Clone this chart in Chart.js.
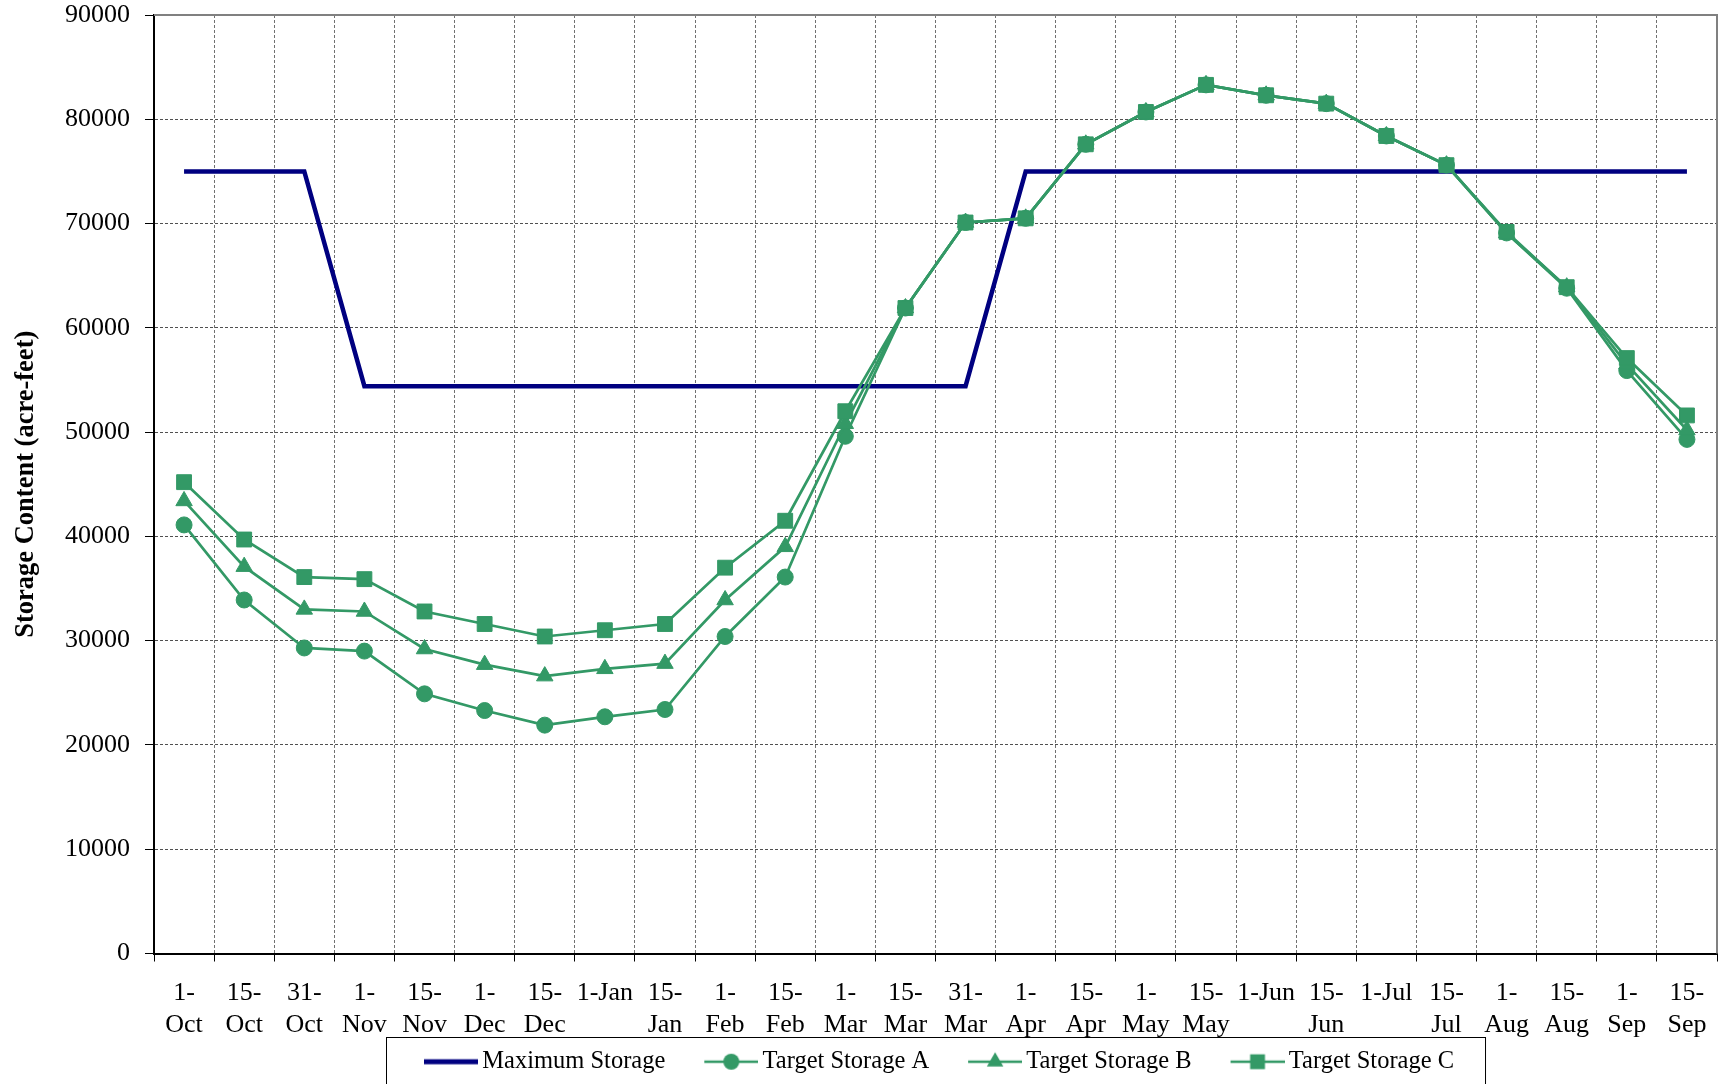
<!DOCTYPE html>
<html>
<head>
<meta charset="utf-8">
<script src="https://cdn.jsdelivr.net/npm/chart.js@4.4.0/dist/chart.umd.min.js"></script>
<style>
  html, body { margin: 0; padding: 0; background: #fff; }
  #wrap { width: 1729px; height: 1084px; }
</style>
</head>
<body>
<div id="wrap"><canvas id="storageChart" width="1729" height="1084"></canvas></div>
<script>
'use strict';

// x categories, split on two lines the way the sheet wraps them
const tickLabels = [
    ['1-', 'Oct'], ['15-', 'Oct'], ['31-', 'Oct'], ['1-', 'Nov'], ['15-', 'Nov'],
    ['1-', 'Dec'], ['15-', 'Dec'], ['1-Jan'], ['15-', 'Jan'], ['1-', 'Feb'],
    ['15-', 'Feb'], ['1-', 'Mar'], ['15-', 'Mar'], ['31-', 'Mar'], ['1-', 'Apr'],
    ['15-', 'Apr'], ['1-', 'May'], ['15-', 'May'], ['1-Jun'], ['15-', 'Jun'],
    ['1-Jul'], ['15-', 'Jul'], ['1-', 'Aug'], ['15-', 'Aug'], ['1-', 'Sep'], ['15-', 'Sep']
];

const maxStorage = [
    75000, 75000, 75000, 54400, 54400, 54400, 54400, 54400, 54400, 54400,
    54400, 54400, 54400, 54400, 75000, 75000, 75000, 75000, 75000, 75000,
    75000, 75000, 75000, 75000, 75000, 75000
];

const targetA = [
    41100, 33900, 29300, 29000, 24900, 23300, 21900, 22700, 23400, 30400,
    36100, 49600, 61900, 70100, 70500, 77600, 80700, 83300, 82300, 81500,
    78400, 75600, 69100, 63800, 55900, 49300
];

const targetB = [
    43400, 37100, 33000, 32800, 29200, 27700, 26600, 27300, 27800, 33900,
    39000, 50800, 61900, 70100, 70500, 77600, 80700, 83300, 82300, 81500,
    78400, 75600, 69100, 63900, 56500, 50200
];

const targetC = [
    45200, 39700, 36100, 35900, 32800, 31600, 30400, 31000, 31600, 37000,
    41500, 52000, 61900, 70100, 70500, 77600, 80700, 83300, 82300, 81500,
    78400, 75600, 69200, 63900, 57100, 51600
];

const seriesNames = ['Maximum Storage', 'Target Storage A', 'Target Storage B', 'Target Storage C'];

const NAVY = '#000080';
const GREEN = '#339966';
const FONT = 'Liberation Serif, "Times New Roman", serif';

// legend swatch: line with the marker in the middle, like the spreadsheet legend
const ICON_W = 91;
function legendIcon(color, width, style, radius) {
    const c = document.createElement('canvas');
    c.width = ICON_W;
    c.height = 26;
    const g = c.getContext('2d');
    const y = 13, x0 = ICON_W - 54, cx = ICON_W - 27;
    g.strokeStyle = color;
    g.fillStyle = color;
    g.lineWidth = width;
    g.beginPath();
    g.moveTo(x0, y);
    g.lineTo(ICON_W, y);
    g.stroke();
    g.beginPath();
    if (style === 'circle') {
        g.arc(cx, y, radius, 0, Math.PI * 2);
    } else if (style === 'triangle') {
        for (let k = 0; k < 3; k++) {
            const a = k * 2 * Math.PI / 3;
            const px = cx + Math.sin(a) * radius, py = y - Math.cos(a) * radius;
            if (k === 0) g.moveTo(px, py); else g.lineTo(px, py);
        }
        g.closePath();
    } else if (style === 'rect') {
        const s = radius * Math.SQRT1_2;
        g.rect(cx - s, y - s, 2 * s, 2 * s);
    }
    if (style) g.fill();
    return c;
}

const icons = [
    legendIcon(NAVY, 5, null, 0),
    legendIcon(GREEN, 2.5, 'circle', 8),
    legendIcon(GREEN, 2.5, 'triangle', 9.5),
    legendIcon(GREEN, 2.5, 'rect', 10.5)
];

// keep the legend roughly centred under the plot area, and draw its frame
const legendFrame = {
    id: 'legendFrame',
    afterUpdate(chart) {
        const lg = chart.legend;
        const area = chart.chartArea;
        const dx = (area.left + area.right) / 2 - (lg.left + lg.right) / 2 - 11;
        lg.left += dx;
        lg.right += dx;
    },
    afterDraw(chart) {
        const lg = chart.legend;
        const pad = lg.options.labels.padding;
        const start = (lg.left + pad + lg.right - lg.lineWidths[0]) / 2;
        const end = start + lg.lineWidths[0] - pad;
        const boxW = lg.options.labels.pointStyleWidth;
        const left = start + boxW - 46 - 38;
        const right = end + 31;
        const ctx = chart.ctx;
        ctx.save();
        ctx.strokeStyle = '#000';
        ctx.lineWidth = 1;
        ctx.strokeRect(Math.round(left) + 0.5, Math.round(lg.top - 3) + 0.5, right - left, 80);
        ctx.restore();
    }
};

// grey frame on top and right of the plot area
const plotFrame = {
    id: 'plotFrame',
    beforeDatasetsDraw(chart) {
        const {ctx, chartArea: a} = chart;
        ctx.save();
        ctx.strokeStyle = '#808080';
        ctx.lineWidth = 2;
        ctx.beginPath();
        ctx.moveTo(a.left, a.top);
        ctx.lineTo(a.right, a.top);
        ctx.lineTo(a.right, a.bottom);
        ctx.stroke();
        ctx.restore();
    }
};

Chart.defaults.color = '#000';
Chart.defaults.font.family = FONT;

const ctx = document.getElementById('storageChart').getContext('2d');
const chart = new Chart(ctx, {
    type: 'line',
    data: {
        labels: tickLabels,
        datasets: [{
            label: seriesNames[0],
            data: maxStorage,
            borderColor: NAVY,
            borderWidth: 4.5,
            pointRadius: 0,
            order: 10
        }, {
            label: seriesNames[1],
            data: targetA,
            borderColor: GREEN,
            backgroundColor: GREEN,
            borderWidth: 2.7,
            pointStyle: 'circle',
            pointRadius: 8,
            pointBorderWidth: 1,
            order: 3
        }, {
            label: seriesNames[2],
            data: targetB,
            borderColor: GREEN,
            backgroundColor: GREEN,
            borderWidth: 2.7,
            pointStyle: 'triangle',
            pointRadius: 9.5,
            pointBorderWidth: 1,
            order: 2
        }, {
            label: seriesNames[3],
            data: targetC,
            borderColor: GREEN,
            backgroundColor: GREEN,
            borderWidth: 2.7,
            pointStyle: 'rect',
            pointRadius: 10.5,
            pointBorderWidth: 1,
            order: 1
        }]
    },
    options: {
        responsive: false,
        animation: false,
        layout: { padding: { left: 4, right: 12, top: 15, bottom: 0 } },
        plugins: {
            tooltip: { enabled: false },
            legend: {
                position: 'bottom',
                labels: {
                    usePointStyle: true,
                    pointStyleWidth: 75,
                    padding: 10,
                    font: { family: FONT, size: 24.5 },
                    generateLabels(chart) {
                        return chart.data.datasets.map((ds, i) => ({
                            text: ds.label,
                            pointStyle: icons[i],
                            datasetIndex: i,
                            hidden: false,
                            lineWidth: 0,
                            fontColor: '#000'
                        }));
                    }
                }
            }
        },
        scales: {
            x: {
                offset: true,
                afterFit(scale) { scale.height = 86; },
                grid: {
                    offset: true,
                    color: '#707070',
                    lineWidth: 1,
                    tickLength: 8,
                    tickColor: '#000',
                    tickWidth: 1,
                    tickBorderDash: []
                },
                border: { color: '#000', width: 2, dash: [3, 2] },
                ticks: {
                    autoSkip: false,
                    maxRotation: 0,
                    padding: 16,
                    font: { family: FONT, size: 26, lineHeight: 1.23 }
                }
            },
            y: {
                min: 0,
                max: 90000,
                afterFit(scale) {
                    scale.width = 150;
                    scale.paddingTop = 0;
                    scale.paddingBottom = 0;
                },
                grid: {
                    color: '#505050',
                    lineWidth: 1,
                    tickLength: 9,
                    tickColor: '#000',
                    tickWidth: 1,
                    tickBorderDash: []
                },
                border: { color: '#000', width: 2, dash: [3, 2] },
                ticks: {
                    stepSize: 10000,
                    padding: 15,
                    font: { family: FONT, size: 26, lineHeight: 1.2 },
                    callback: v => String(v)
                },
                title: {
                    display: true,
                    text: 'Storage Content (acre-feet)',
                    padding: { top: 6, bottom: 0 },
                    font: { family: FONT, size: 26.5, weight: 'bold', lineHeight: 1.2 }
                }
            }
        }
    },
    plugins: [legendFrame, plotFrame]
});
</script>
</body>
</html>
